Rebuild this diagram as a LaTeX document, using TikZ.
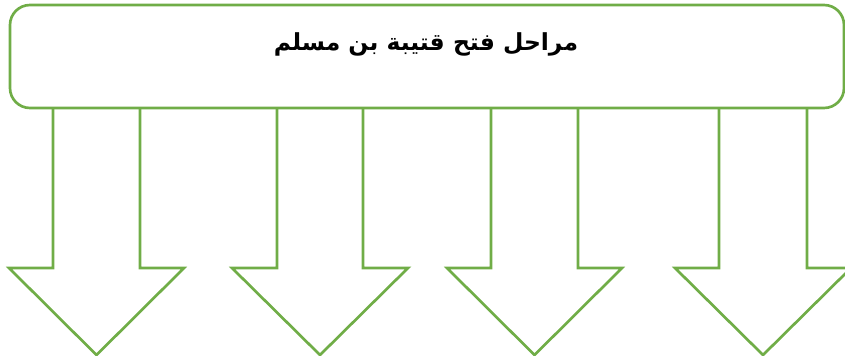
\documentclass[tikz,border=0pt]{standalone}
\usepackage{fontspec}
\newfontfamily\arabicfont[Script=Arabic]{DejaVu Sans}
\TeXXeTstate=1
\definecolor{stagegreen}{RGB}{112,173,71}

\tikzset{
  stageline/.style={draw=stagegreen, line width=2pt, line join=miter},
  titlebox/.style={stageline, rounded corners=15pt, minimum width=625.5pt, minimum height=77.25pt, inner sep=0pt},
  titletext/.style={font=\arabicfont\bfseries\fontsize{17.6}{21}\selectfont, inner sep=0pt}
}

\begin{document}
\begin{tikzpicture}[x=0.75pt,y=-0.75pt]
\useasboundingbox (0,0) rectangle (845,356);
\clip (0,0) rectangle (845,356);

\node[titlebox] (box) at (427,56.5) {};
\node[titletext] (title) at (426,44) {\beginR مراحل فتح قتيبة بن مسلم\endR};

% the four down arrows
\draw[stageline] (53,108) -- (53,268) -- (9,268) -- (96.5,355) -- (184,268) -- (140,268) -- (140,108);
\draw[stageline] (277,108) -- (277,268) -- (232,268) -- (320,355) -- (408,268) -- (363,268) -- (363,108);
\draw[stageline] (491,108) -- (491,268) -- (447,268) -- (534.5,355) -- (622,268) -- (578,268) -- (578,108);
\draw[stageline] (719,108) -- (719,268) -- (675,268) -- (763,355) -- (851,268) -- (807,268) -- (807,108);
\end{tikzpicture}
\end{document}
